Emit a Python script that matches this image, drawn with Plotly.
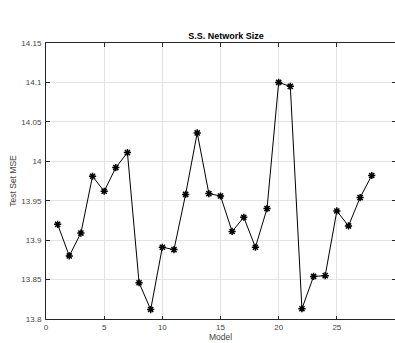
import plotly.graph_objects as go

# Test-set MSE for each model of the S.S. network-size sweep
models = list(range(1, 29))
mse = [13.920, 13.880, 13.909, 13.981, 13.962, 13.992, 14.011, 13.846, 13.812, 13.891,
       13.888, 13.958, 14.036, 13.959, 13.956, 13.911, 13.929, 13.891, 13.940, 14.100,
       14.095, 13.813, 13.854, 13.855, 13.937, 13.918, 13.954, 13.982]

x_ticks = [0, 5, 10, 15, 20, 25, 30]
y_ticks = [13.8, 13.85, 13.9, 13.95, 14.0, 14.05, 14.1, 14.15]
y_tick_text = ["13.8", "13.85", "13.9", "13.95", "14", "14.05", "14.1", "14.15"]

FONT = "Liberation Sans, Arial, Helvetica, sans-serif"
AX = "#262626"
GRID = "#e3e3e3"

fig = go.Figure()
fig.add_trace(go.Scatter(
    x=models, y=mse, mode="lines+markers",
    line=dict(color="black", width=1),
    marker=dict(symbol="asterisk-open", size=6, color="black",
                line=dict(color="black", width=1.5)),
    showlegend=False,
))

axis_common = dict(
    showline=True, linecolor=AX, linewidth=1, mirror="ticks",
    ticks="inside", ticklen=3.5, tickcolor=AX, tickwidth=1,
    showgrid=True, gridcolor=GRID, gridwidth=1, zeroline=False,
    tickfont=dict(family=FONT, size=8, color="#444"),
)

fig.update_xaxes(
    range=[0, 30], tickvals=x_ticks, ticktext=[str(v) for v in x_ticks],
    title=dict(text="Model", font=dict(family=FONT, size=8.5, color="#444"), standoff=0),
    **axis_common,
)
fig.update_yaxes(
    range=[13.8, 14.15], tickvals=y_ticks, ticktext=y_tick_text,
    ticklabelstandoff=2,
    title=dict(text="Test Set MSE", font=dict(family=FONT, size=8.5, color="#444"), standoff=3),
    **axis_common,
)

fig.update_layout(
    width=395, height=343,
    margin=dict(l=46, r=0, t=43, b=24, autoexpand=False),
    paper_bgcolor="white", plot_bgcolor="white",
    title=dict(text="<b>S.S. Network Size</b>", x=226 / 395, xanchor="center",
               y=1 - 36 / 343, yanchor="middle",
               font=dict(family=FONT, size=9, color="black")),
)

fig.write_html("out.html")
